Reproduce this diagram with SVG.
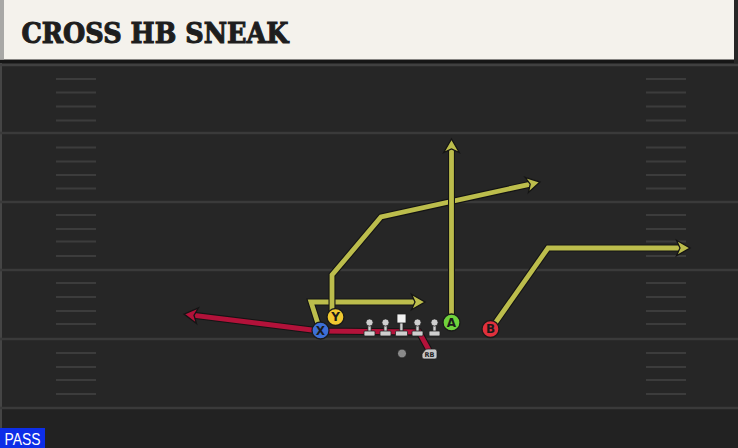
<svg xmlns="http://www.w3.org/2000/svg" width="738" height="448" viewBox="0 0 738 448">
<style>
.yl{stroke:#3a3a3a;stroke-width:2.5}
.hm{stroke:#3c3c3c;stroke-width:2}
.out{fill:none;stroke:#141414;stroke-width:7;stroke-linejoin:miter}
.ry{fill:none;stroke:#bcbd4c;stroke-width:4.8;stroke-linejoin:miter}
.rr{fill:none;stroke:#b3123a;stroke-width:4.8;stroke-linejoin:miter}
.pc{stroke:#1a1a1a;stroke-width:1.3}
.pl{font-family:"DejaVu Sans",sans-serif;font-weight:bold;font-size:12px;fill:#1a1a1a;text-anchor:middle}
.ol{fill:#cfcfcf;stroke:#222;stroke-width:0.8}
</style>
<defs>
<marker id="hy" markerUnits="userSpaceOnUse" markerWidth="30" markerHeight="30" viewBox="-15 -15 30 30" refX="0" refY="0" orient="auto" overflow="visible">
<path d="M-7.5,-7.8 L6,0 L-7.5,7.8 L-4,0 Z" fill="#bcbd4c" stroke="#141414" stroke-width="1.3" stroke-linejoin="miter"/>
</marker>
<marker id="hr" markerUnits="userSpaceOnUse" markerWidth="30" markerHeight="30" viewBox="-15 -15 30 30" refX="0" refY="0" orient="auto" overflow="visible">
<path d="M-7.5,-7.8 L6,0 L-7.5,7.8 L-4,0 Z" fill="#b3123a" stroke="#141414" stroke-width="1.3" stroke-linejoin="miter"/>
</marker>
<g id="lm">
<rect x="-1.6" y="-11" width="3.2" height="10" class="ol"/>
<rect x="-5.5" y="-2.5" width="11" height="5" rx="1" class="ol"/>
<circle cx="0" cy="-11" r="3.6" class="ol"/>
</g>
</defs>
<g id="field">
<rect x="0" y="0" width="738" height="448" fill="#262626"/>
<rect x="0" y="408" width="738" height="40" fill="#222222"/>
<rect x="0" y="60" width="2" height="388" fill="#454545"/>
<line class="yl" x1="0" y1="65" x2="738" y2="65" style="stroke:#404040"/>
<line class="yl" x1="0" y1="133" x2="738" y2="133"/>
<line class="yl" x1="0" y1="202" x2="738" y2="202"/>
<line class="yl" x1="0" y1="270" x2="738" y2="270"/>
<line class="yl" x1="0" y1="339" x2="738" y2="339"/>
<line class="yl" x1="0" y1="408" x2="738" y2="408"/>
<g id="hashes-left">
<line class="hm" x1="56" y1="79" x2="96" y2="79"/><line class="hm" x1="56" y1="92.5" x2="96" y2="92.5"/><line class="hm" x1="56" y1="106.5" x2="96" y2="106.5"/><line class="hm" x1="56" y1="120.5" x2="96" y2="120.5"/>
<line class="hm" x1="56" y1="147.5" x2="96" y2="147.5"/><line class="hm" x1="56" y1="161.5" x2="96" y2="161.5"/><line class="hm" x1="56" y1="175" x2="96" y2="175"/><line class="hm" x1="56" y1="188.5" x2="96" y2="188.5"/>
<line class="hm" x1="56" y1="215" x2="96" y2="215"/><line class="hm" x1="56" y1="229" x2="96" y2="229"/><line class="hm" x1="56" y1="241.5" x2="96" y2="241.5"/><line class="hm" x1="56" y1="256" x2="96" y2="256"/>
<line class="hm" x1="56" y1="283" x2="96" y2="283"/><line class="hm" x1="56" y1="297" x2="96" y2="297"/><line class="hm" x1="56" y1="311" x2="96" y2="311"/><line class="hm" x1="56" y1="324" x2="96" y2="324"/>
<line class="hm" x1="56" y1="353" x2="96" y2="353"/><line class="hm" x1="56" y1="367" x2="96" y2="367"/><line class="hm" x1="56" y1="380" x2="96" y2="380"/><line class="hm" x1="56" y1="394" x2="96" y2="394"/>
</g>
<g id="hashes-right">
<line class="hm" x1="646" y1="79" x2="686" y2="79"/><line class="hm" x1="646" y1="92.5" x2="686" y2="92.5"/><line class="hm" x1="646" y1="106.5" x2="686" y2="106.5"/><line class="hm" x1="646" y1="120.5" x2="686" y2="120.5"/>
<line class="hm" x1="646" y1="147.5" x2="686" y2="147.5"/><line class="hm" x1="646" y1="161.5" x2="686" y2="161.5"/><line class="hm" x1="646" y1="175" x2="686" y2="175"/><line class="hm" x1="646" y1="188.5" x2="686" y2="188.5"/>
<line class="hm" x1="646" y1="215" x2="686" y2="215"/><line class="hm" x1="646" y1="229" x2="686" y2="229"/><line class="hm" x1="646" y1="241.5" x2="686" y2="241.5"/><line class="hm" x1="646" y1="256" x2="686" y2="256"/>
<line class="hm" x1="646" y1="283" x2="686" y2="283"/><line class="hm" x1="646" y1="297" x2="686" y2="297"/><line class="hm" x1="646" y1="311" x2="686" y2="311"/><line class="hm" x1="646" y1="324" x2="686" y2="324"/>
<line class="hm" x1="646" y1="353" x2="686" y2="353"/><line class="hm" x1="646" y1="367" x2="686" y2="367"/><line class="hm" x1="646" y1="380" x2="686" y2="380"/><line class="hm" x1="646" y1="394" x2="686" y2="394"/>
</g>
</g>
<g id="header">
<rect x="0" y="59" width="734" height="4" fill="#161616"/>
<rect x="0" y="0" width="734" height="59.5" fill="#f4f2ec"/>
<rect x="0" y="0" width="4" height="59.5" fill="#a8a8a6"/>
<text x="21.5" y="42.5" font-family="'DejaVu Serif',serif" font-weight="bold" font-size="28" fill="#1e1e1e" stroke="#1e1e1e" stroke-width="1.1" stroke-linejoin="miter" textLength="267" lengthAdjust="spacingAndGlyphs">CROSS HB SNEAK</text>
</g>
<g id="connectors">
<path class="out" d="M430,352 L419,332 L320,331 L190,314.8"/>
<path class="rr" d="M430,352 L419,332 L320,331 L190,314.8" marker-end="url(#hr)"/>
<path class="out" d="M320,330 L311,302 L419,302"/>
<path class="ry" d="M320,330 L311,302 L419,302" marker-end="url(#hy)"/>
<path class="out" d="M332,317 L332,275 L381,217 L534.1,183.3"/>
<path class="ry" d="M332,317 L332,275 L381,217 L534.1,183.3" marker-end="url(#hy)"/>
<path class="out" d="M451.5,322 L451.5,145"/>
<path class="ry" d="M451.5,322 L451.5,145" marker-end="url(#hy)"/>
<path class="out" d="M491,329 L548,248 L684,248"/>
<path class="ry" d="M491,329 L548,248 L684,248" marker-end="url(#hy)"/>
</g>
<g id="line">
<use href="#lm" x="369.5" y="333.5"/>
<use href="#lm" x="385.5" y="333.5"/>
<g id="center">
<rect x="399.8" y="320" width="3.2" height="11" class="ol"/>
<rect x="395.5" y="331" width="12" height="5" rx="1" class="ol"/>
<rect x="397" y="314" width="9" height="9" fill="#f2f2f2" stroke="#222" stroke-width="0.8"/>
</g>
<use href="#lm" x="417.5" y="333.5"/>
<use href="#lm" x="434.5" y="333.5"/>
</g>
<g id="qb"><circle cx="402" cy="353.5" r="4.5" fill="#8a8a8a" stroke="#222" stroke-width="1"/></g>
<g id="rb">
<path d="M425,350 Q426,349 428,349 L435,349 Q437,349 437,351.5 L437,357 Q437,359 435,359 L424,359 Q422,359 422,357 L422,354 Z" fill="#c8c8c8" stroke="#222" stroke-width="0.8"/>
<text x="429.5" y="356.8" font-family="'DejaVu Sans',sans-serif" font-weight="bold" font-size="6.5" fill="#222" text-anchor="middle">RB</text>
</g>
<g id="player-X"><circle cx="320.5" cy="330.5" r="8.5" fill="#3d6fd6" class="pc"/><text x="320.5" y="334.8" class="pl">X</text></g>
<g id="player-Y"><circle cx="335.5" cy="317" r="8.5" fill="#f0c830" class="pc"/><text x="335.5" y="321.3" class="pl">Y</text></g>
<g id="player-A"><circle cx="451.5" cy="322.5" r="8.5" fill="#6fd23c" class="pc"/><text x="451.5" y="326.8" class="pl">A</text></g>
<g id="player-B"><circle cx="490.5" cy="329" r="8.5" fill="#e0303c" class="pc"/><text x="490.5" y="333.3" class="pl">B</text></g>
<g id="play-type">
<rect x="0" y="428" width="45" height="20" fill="#0d2ee8"/>
<text x="4.5" y="444.5" font-family="'Liberation Sans',sans-serif" font-size="16" fill="#ffffff" textLength="36" lengthAdjust="spacingAndGlyphs">PASS</text>
</g>
</svg>
